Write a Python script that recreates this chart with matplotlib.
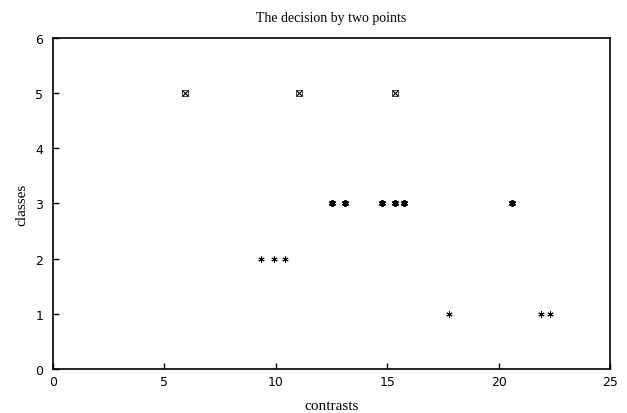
import matplotlib
matplotlib.use('Agg')
import matplotlib.pyplot as plt

# class 5 points (x markers)
x5 = [5.92, 11.04, 15.35]
y5 = [5, 5, 5]
# star points, per class
x3 = [12.52, 13.11, 14.77, 15.35, 15.75, 20.59]
y3 = [3, 3, 3, 3, 3, 3]
x2 = [9.34, 9.92, 10.41]
y2 = [2, 2, 2]
x1 = [17.77, 21.89, 22.31]
y1 = [1, 1, 1]

fig = plt.figure(figsize=(6.27, 4.14), dpi=100)
ax = fig.add_axes([0.0845, 0.1063, 0.8885, 0.7997])

ast = (6, 2, 0)  # asterisk like matlab '*'
ax.plot(x5, y5, 'x', color='k', markersize=4, markeredgewidth=0.8)
ax.plot(x5, y5, 's', color='k', markersize=4, markerfacecolor='none', markeredgewidth=0.5)
ax.plot(x3, y3, marker=ast, ls='none', color='k', markersize=5, markeredgewidth=1.3)
ax.plot(x2, y2, marker=ast, ls='none', color='k', markersize=4.5, markeredgewidth=0.7)
ax.plot(x1, y1, marker=ast, ls='none', color='k', markersize=4.5, markeredgewidth=0.7)

ax.set_xlim(0, 25)
ax.set_ylim(0, 6)
ax.set_xticks([0, 5, 10, 15, 20, 25])
ax.set_yticks([0, 1, 2, 3, 4, 5, 6])
ax.tick_params(direction='in', length=4, width=1, labelsize=9)
ax.tick_params(axis='y', pad=7)
ax.tick_params(axis='x', pad=4)
for s in ax.spines.values():
    s.set_linewidth(1.2)

ax.set_title('The decision by two points', fontfamily='Liberation Serif', fontsize=10, pad=12)
ax.set_xlabel('contrasts', fontfamily='Liberation Serif', fontsize=11, labelpad=8)
ax.set_ylabel('classes', fontfamily='Liberation Serif', fontsize=11, labelpad=5)

plt.savefig('out.png', dpi=100)
